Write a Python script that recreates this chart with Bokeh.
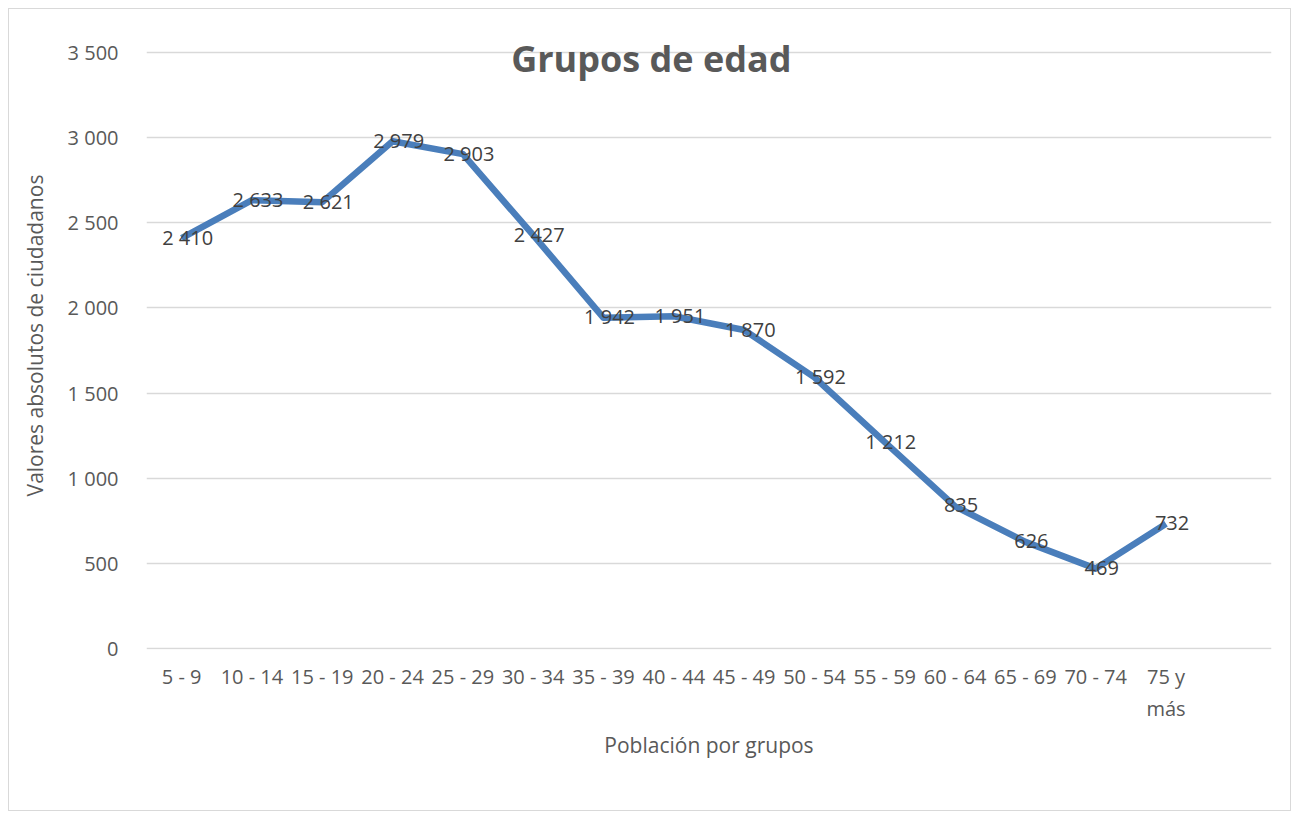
from bokeh.plotting import figure
from bokeh.models import ColumnDataSource, LabelSet, Label, FixedTicker
from bokeh.embed import file_html
from bokeh.resources import INLINE
from bokeh.core.properties import value

categories = ["5 - 9", "10 - 14", "15 - 19", "20 - 24", "25 - 29", "30 - 34", "35 - 39",
              "40 - 44", "45 - 49", "50 - 54", "55 - 59", "60 - 64", "65 - 69", "70 - 74", "75 y\nmás"]
values = [2410, 2633, 2621, 2979, 2903, 2427, 1942, 1951, 1870, 1592, 1212, 835, 626, 469, 732]
value_labels = ["2 410", "2 633", "2 621", "2 979", "2 903", "2 427", "1 942", "1 951", "1 870",
                "1 592", "1 212", "835", "626", "469", "732"]
y_ticks = [0, 500, 1000, 1500, 2000, 2500, 3000, 3500]
y_tick_labels = ["0", "500", "1 000", "1 500", "2 000", "2 500", "3 000", "3 500"]

FONT = "Open Sans"
GREY = "#595959"

xs = [i + 0.5 for i in range(len(categories))]
src = ColumnDataSource(dict(x=xs, y=values, lab=value_labels))

p = figure(width=1283, height=803, output_backend="svg", toolbar_location=None,
           x_range=(0, len(categories) + 1), y_range=(-6, 3682),
           min_border_left=137, min_border_right=21, min_border_top=12, min_border_bottom=163)
p.margin = (8, 0, 0, 8)
p.styles = {"border": "1px solid #d9d9d9"}
p.outline_line_color = None
p.background_fill_color = "white"
p.border_fill_color = "white"

p.xgrid.grid_line_color = None
p.ygrid.grid_line_color = "#d9d9d9"
p.ygrid.grid_line_width = 1.5

p.yaxis.ticker = FixedTicker(ticks=y_ticks)
p.yaxis.major_label_overrides = {t: l for t, l in zip(y_ticks, y_tick_labels)}
p.xaxis.ticker = FixedTicker(ticks=xs)
p.xaxis.major_label_overrides = {x: c for x, c in zip(xs, categories)}

for ax in (p.xaxis[0], p.yaxis[0]):
    ax.axis_line_color = None
    ax.major_tick_line_color = None
    ax.minor_tick_line_color = None
    ax.major_label_text_font = FONT
    ax.major_label_text_font_size = "20px"
    ax.major_label_text_color = GREY
    ax.axis_label_text_font = FONT
    ax.axis_label_text_font_size = "21px"
    ax.axis_label_text_font_style = "normal"
    ax.axis_label_text_color = GREY

p.yaxis.major_label_standoff = 22
p.xaxis.major_label_standoff = 7
p.yaxis.axis_label = "Valores absolutos de ciudadanos"
p.xaxis.axis_label = "Población por grupos"
p.yaxis.axis_label_standoff = 16
p.xaxis.axis_label_standoff = 6

p.line("x", "y", source=src, line_color="#4a7ebb", line_width=6.5, line_join="round")

labels = LabelSet(x="x", y="y", text="lab", source=src, x_offset=6, y_offset=1,
                  text_align="center", text_baseline="middle",
                  text_font=value(FONT), text_font_size="20px", text_color="#404040")
p.add_layout(labels)

title = Label(x=7.18, y=3465, text="Grupos de edad", text_align="center", text_baseline="middle",
              text_font=FONT, text_font_size="36px", text_font_style="bold", text_color=GREY)
p.add_layout(title)

open("out.html", "w").write(file_html(p, INLINE))
